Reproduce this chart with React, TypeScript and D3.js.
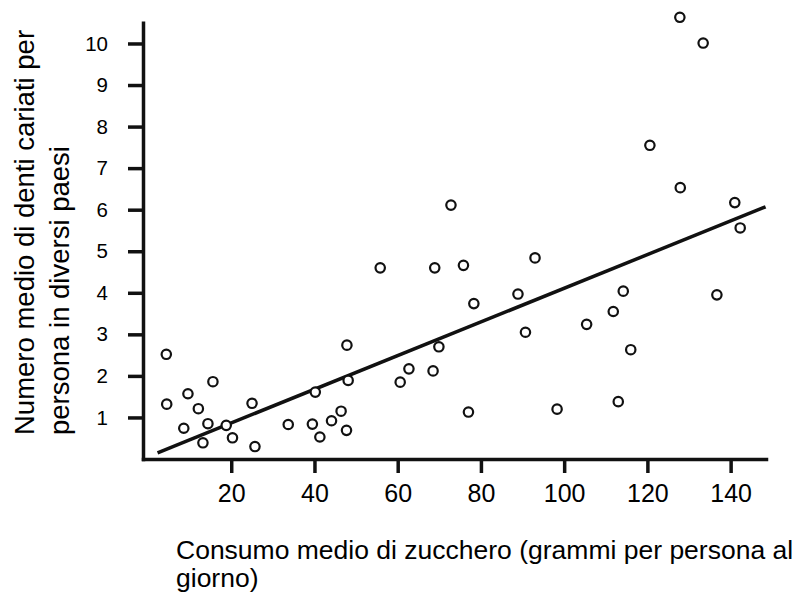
import React, { useEffect, useRef } from 'react';
import * as d3 from 'd3';

// sugar consumption (g per person per day) for each country
const sugarValues = [
  4.4, 4.5, 9.6, 15.6, 12.1, 8.6, 14.4, 18.8, 13.2, 20.3,
  25.0, 25.7, 33.7, 39.5, 40.2, 41.3, 44.1, 46.4, 47.7, 48.1,
  47.8, 55.8, 60.6, 62.7, 68.5, 69.9, 68.9, 75.8, 78.3, 77.0,
  88.9, 90.7, 93.0, 72.8, 98.3, 105.4, 111.8, 114.2, 116.0, 113.0,
  136.7, 120.6, 127.9, 127.8, 133.4, 141.0, 142.3
];

// average decayed teeth per person, same order as sugarValues
const teethValues = [
  2.52, 1.32, 1.57, 1.86, 1.21, 0.74, 0.85, 0.81, 0.39, 0.51,
  1.34, 0.30, 0.83, 0.84, 1.61, 0.53, 0.92, 1.15, 0.69, 1.89,
  2.74, 4.60, 1.85, 2.17, 2.12, 2.70, 4.60, 4.66, 3.74, 1.13,
  3.97, 3.05, 4.84, 6.11, 1.20, 3.24, 3.55, 4.04, 2.63, 1.38,
  3.95, 7.55, 6.53, 10.63, 10.01, 6.17, 5.56
];

// regression line end points
const trendX = [2.3, 148.4];
const trendY = [0.15, 6.07];

const xTicks = [20, 40, 60, 80, 100, 120, 140];
const yTicks = [1, 2, 3, 4, 5, 6, 7, 8, 9, 10];

const yTitleLines = ['Numero medio di denti cariati per', 'persona in diversi paesi'];
const xTitleLines = ['Consumo medio di zucchero (grammi per persona al', 'giorno)'];

const App: React.FC = () => {
  const svgRef = useRef<SVGSVGElement>(null);

  useEffect(() => {
    if (!svgRef.current) return;
    document.body.style.margin = '0';

    const svg = d3.select(svgRef.current);
    svg.selectAll('*').remove();

    const width = 800;
    const height = 593;
    const font = '"Liberation Sans", Arial, sans-serif';
    const ink = '#111';

    const x = d3.scaleLinear().domain([-1.2, 148.5]).range([143, 766]);
    const y = d3.scaleLinear().domain([0, 10.5]).range([459, 22.7]);

    svg.attr('width', width).attr('height', height);

    svg.append('rect')
      .attr('width', width)
      .attr('height', height)
      .attr('fill', '#fff');

    // x axis
    const xAxis = svg.append('g')
      .attr('transform', `translate(0,${y(0)})`)
      .call(d3.axisBottom(x).tickValues(xTicks).tickSize(14).tickSizeOuter(0).tickPadding(11));

    // y axis
    const yAxis = svg.append('g')
      .attr('transform', `translate(${x(-1.2)},0)`)
      .call(d3.axisLeft(y).tickValues(yTicks).tickSize(15).tickSizeOuter(0).tickPadding(20));

    [xAxis, yAxis].forEach(g => {
      g.attr('font-family', font);
      g.select('.domain').attr('stroke', ink).attr('stroke-width', 3.5).attr('stroke-linecap', 'square');
      g.selectAll('.tick line').attr('stroke', ink).attr('stroke-width', 3.5);
      g.selectAll('.tick text').attr('fill', '#000');
    });
    xAxis.attr('font-size', 25);
    yAxis.attr('font-size', 20.5);

    // regression line
    const line = d3.line<number>()
      .x((_, i) => x(trendX[i]))
      .y(d => y(d));

    svg.append('path')
      .attr('d', line(trendY))
      .attr('fill', 'none')
      .attr('stroke', ink)
      .attr('stroke-width', 3.5);

    // data points
    svg.append('g')
      .selectAll('circle')
      .data(sugarValues)
      .join('circle')
      .attr('cx', d => x(d))
      .attr('cy', (_, i) => y(teethValues[i]))
      .attr('r', 4.7)
      .attr('fill', '#fff')
      .attr('stroke', ink)
      .attr('stroke-width', 2.2);

    // axis titles
    yTitleLines.forEach((t, i) => {
      svg.append('text')
        .attr('transform', `translate(${34 + i * 35},435) rotate(-90)`)
        .attr('text-anchor', 'start')
        .attr('font-family', font)
        .attr('font-size', 27.5)
        .attr('fill', '#000')
        .text(t);
    });

    xTitleLines.forEach((t, i) => {
      svg.append('text')
        .attr('x', 176)
        .attr('y', 559 + i * 28)
        .attr('font-family', font)
        .attr('font-size', 26.5)
        .attr('fill', '#000')
        .text(t);
    });
  }, []);

  return (
    <div>
      <svg ref={svgRef} style={{ display: 'block' }}></svg>
    </div>
  );
};

export default App;
